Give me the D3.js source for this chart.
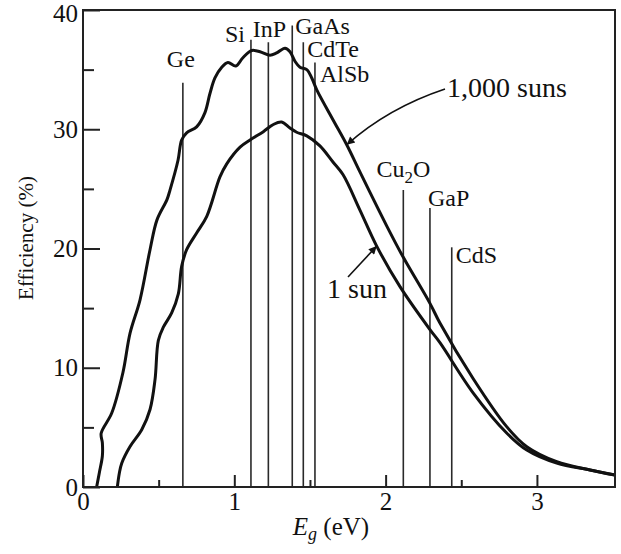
<!DOCTYPE html>
<html>
<head>
<meta charset="utf-8">
<script src="https://cdn.jsdelivr.net/npm/d3@7"></script>
<style>
  body { margin: 0; background: #fff; }
  svg { display: block; font-family: "Liberation Serif", "DejaVu Serif", serif; }
</style>
</head>
<body>
<div class="vis-efficiency"></div>
<script>
// 1,000 suns curve (Eg in eV, efficiency in %)
const egSuns1000 = [0.090, 0.108, 0.128, 0.128, 0.120, 0.190, 0.264, 0.311, 0.377, 0.443, 0.489, 0.555, 0.575,
  0.628, 0.652, 0.685, 0.751, 0.806, 0.839, 0.872, 0.917, 0.958, 1.010, 1.057, 1.115, 1.170, 1.236, 1.280,
  1.335, 1.368, 1.401, 1.434, 1.479, 1.512, 1.545, 1.652, 1.743, 1.831, 2.007, 2.115, 2.293, 2.359, 2.578,
  2.800, 2.933, 3.131, 3.351, 3.516];
const effSuns1000 = [0, 1.2, 2.6, 3.7, 4.5, 6.2, 9.6, 12.9, 15.7, 19.9, 22.4, 24.1, 24.9,
  27.4, 29.1, 29.7, 30.2, 31.4, 33.0, 34.3, 35.2, 35.6, 35.3, 36.0, 36.6, 36.5, 36.2, 36.4,
  36.8, 36.5, 35.7, 35.2, 35.0, 34.3, 33.3, 30.8, 28.7, 26.4, 21.9, 19.3, 15.4, 13.75, 9.1,
  5.06, 3.38, 2.12, 1.43, 1.0];

// 1 sun curve
const egSun1 = [0.227, 0.240, 0.256, 0.311, 0.388, 0.443, 0.476, 0.498, 0.531, 0.586, 0.630, 0.652, 0.685,
  0.751, 0.818, 0.905, 0.950, 1.038, 1.104, 1.192, 1.258, 1.313, 1.368, 1.412, 1.479, 1.566, 1.652, 1.718,
  1.831, 1.941, 2.095, 2.293, 2.359, 2.578, 2.800, 2.933, 3.131, 3.351, 3.516];
const effSun1 = [0, 1.15, 2.0, 3.4, 4.8, 6.5, 9.0, 12.3, 13.4, 14.6, 16.2, 18.5, 19.9,
  21.3, 22.7, 26.0, 27.1, 28.5, 29.1, 29.8, 30.4, 30.6, 30.1, 29.75, 29.45, 28.6, 27.25, 26.2,
  23.2, 20.2, 16.8, 13.2, 12.1, 7.9, 4.53, 3.1, 2.0, 1.43, 1.0];

// semiconductors: band gap (eV) and top of the marker line (%)
const matNames = ['Ge', 'Si', 'InP', 'GaAs', 'CdTe', 'AlSb', 'Cu2O', 'GaP', 'CdS'];
const matEg = [0.66, 1.11, 1.225, 1.383, 1.456, 1.533, 2.117, 2.293, 2.437];
const matTop = [33.9, 37.5, 37.3, 38.7, 37.3, 35.6, 24.9, 23.4, 20.1];

// tick values
const yMajor = [0, 10, 20, 30, 40];
const yMinor = [5, 15, 25, 35];
const xMajor = [0, 1, 2, 3];
const xMinor = [0.5, 1.5, 2.5];

// where the two curve arrows point at
const arrowTips = [{ eg: 1.743, eff: 28.7 }, { eg: 1.941, eff: 20.2 }];

const draw = () => {
  const width = 621;
  const height = 554;
  const left = 83, right = 615, top = 10, bottom = 487;

  const svg = d3.select('.vis-efficiency').append('svg')
    .attr('width', width).attr('height', height);

  const x = d3.scaleLinear().domain([0, 3.516]).range([left, right]);
  const y = d3.scaleLinear().domain([0, 40]).range([bottom, top]);

  // material lines
  svg.append('g').selectAll('line')
    .data(matEg)
    .enter()
    .append('line')
    .attr('x1', d => x(d)).attr('x2', d => x(d))
    .attr('y1', (d, i) => y(matTop[i]))
    .attr('y2', y(0))
    .attr('stroke', '#2a2a2a')
    .attr('stroke-width', 1.6);

  // label placement: offset from the line (dx) and baseline offset from line top (dy)
  const labelPos = [
    { dx: -2, dy: -16, anchor: 'middle' },
    { dx: -6, dy: 2, anchor: 'end' },
    { dx: 1, dy: -5, anchor: 'middle' },
    { dx: 3, dy: 8, anchor: 'start' },
    { dx: 4, dy: 15, anchor: 'start' },
    { dx: 5, dy: 20, anchor: 'start' },
    { dx: 0, dy: -13, anchor: 'middle' },
    { dx: -2, dy: -2, anchor: 'start' },
    { dx: 4, dy: 16, anchor: 'start' }
  ];

  const labels = svg.append('g').selectAll('text')
    .data(matNames)
    .enter()
    .append('text')
    .attr('x', (d, i) => x(matEg[i]) + labelPos[i].dx)
    .attr('y', (d, i) => y(matTop[i]) + labelPos[i].dy)
    .attr('text-anchor', (d, i) => labelPos[i].anchor)
    .attr('font-size', 24)
    .attr('fill', '#111');
  labels.each(function(d) {
    const t = d3.select(this);
    if (d === 'Cu2O') {
      t.append('tspan').text('Cu');
      t.append('tspan').text('2').attr('font-size', 17).attr('dy', 6);
      t.append('tspan').text('O').attr('dy', -6);
    } else {
      t.text(d);
    }
  });

  // curves
  const line = d3.line()
    .x(d => x(d[0]))
    .y(d => y(d[1]))
    .curve(d3.curveCatmullRom.alpha(0.5));

  const series = [
    d3.zip(egSuns1000, effSuns1000),
    d3.zip(egSun1, effSun1)
  ];
  svg.append('g').selectAll('path')
    .data(series)
    .enter()
    .append('path')
    .attr('d', line)
    .attr('fill', 'none')
    .attr('stroke', '#111')
    .attr('stroke-width', 3)
    .attr('stroke-linejoin', 'round');

  // frame
  svg.append('rect')
    .attr('x', left).attr('y', top)
    .attr('width', right - left).attr('height', bottom - top)
    .attr('fill', 'none')
    .attr('stroke', '#222')
    .attr('stroke-width', 2);

  // axes, ticks pointing inward
  const styleAxis = g => {
    g.select('.domain').remove();
    g.selectAll('line').attr('stroke', '#222').attr('stroke-width', 2);
    g.selectAll('text')
      .attr('font-family', '"Liberation Serif", serif')
      .attr('font-size', 25)
      .attr('fill', '#111');
  };

  const yAxis = svg.append('g')
    .attr('transform', `translate(${left},0)`)
    .call(d3.axisLeft(y).tickValues(yMajor).tickSize(-17).tickPadding(5).tickFormat(d3.format('d')))
    .call(styleAxis);
  // keep the top label inside the picture
  yAxis.selectAll('text').filter(d => d === 40).attr('dy', '0.45em');

  svg.append('g')
    .attr('transform', `translate(${left},0)`)
    .call(d3.axisLeft(y).tickValues(yMinor).tickSize(-11).tickFormat(''))
    .call(styleAxis);

  svg.append('g')
    .attr('transform', `translate(0,${bottom})`)
    .call(d3.axisBottom(x).tickValues(xMajor).tickSize(-12).tickPadding(5).tickFormat(d3.format('d')))
    .call(styleAxis);
  svg.append('g')
    .attr('transform', `translate(0,${bottom})`)
    .call(d3.axisBottom(x).tickValues(xMinor).tickSize(-7).tickFormat(''))
    .call(styleAxis);

  // axis titles
  svg.append('text')
    .attr('transform', 'translate(33,238) rotate(-90)')
    .attr('text-anchor', 'middle')
    .attr('font-size', 21)
    .attr('fill', '#111')
    .text('Efficiency (%)');

  const xt = svg.append('text')
    .attr('x', (left + right) / 2 - 18)
    .attr('y', 535)
    .attr('text-anchor', 'middle')
    .attr('font-size', 25)
    .attr('fill', '#111');
  xt.append('tspan').text('E').attr('font-style', 'italic');
  xt.append('tspan').text('g').attr('font-style', 'italic').attr('font-size', 18).attr('dy', 5);
  xt.append('tspan').text(' (eV)').attr('dy', -5);

  // arrows to the curves
  svg.append('defs').append('marker')
    .attr('id', 'head')
    .attr('viewBox', '0 0 10 10')
    .attr('refX', 10).attr('refY', 5)
    .attr('markerWidth', 11).attr('markerHeight', 8)
    .attr('markerUnits', 'userSpaceOnUse')
    .attr('orient', 'auto')
    .append('path')
    .attr('d', 'M0,0 L10,5 L0,10 z')
    .attr('fill', '#111');

  const t0 = { x: x(arrowTips[0].eg), y: y(arrowTips[0].eff) };
  svg.append('path')
    .attr('d', `M445,89 Q388,108 ${t0.x},${t0.y}`)
    .attr('fill', 'none')
    .attr('stroke', '#111')
    .attr('stroke-width', 1.6)
    .attr('marker-end', 'url(#head)');
  svg.append('text')
    .attr('x', 447).attr('y', 97)
    .attr('font-size', 28)
    .attr('fill', '#111')
    .text('1,000 suns');

  const t1 = { x: x(arrowTips[1].eg), y: y(arrowTips[1].eff) };
  svg.append('path')
    .attr('d', `M348,277 L${t1.x},${t1.y}`)
    .attr('fill', 'none')
    .attr('stroke', '#111')
    .attr('stroke-width', 1.6)
    .attr('marker-end', 'url(#head)');
  svg.append('text')
    .attr('x', 327).attr('y', 298)
    .attr('font-size', 28)
    .attr('fill', '#111')
    .text('1 sun');
};

draw();
</script>
</body>
</html>
